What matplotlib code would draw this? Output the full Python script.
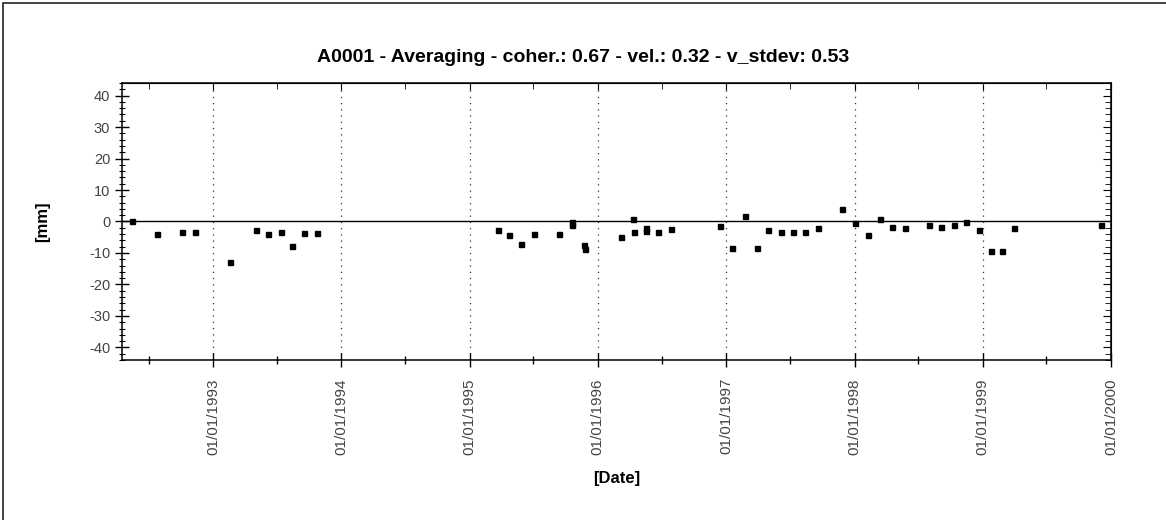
import numpy as np
import pandas as pd
import matplotlib
matplotlib.use("Agg")
import matplotlib.pyplot as plt
import matplotlib.dates as mdates
from matplotlib.patches import Rectangle
from matplotlib.ticker import MultipleLocator

# --- data ---
dates = [
    "1992-05-15", "1992-07-25", "1992-10-04", "1992-11-09",
    "1993-02-19", "1993-05-02", "1993-06-06", "1993-07-12", "1993-08-13",
    "1993-09-17", "1993-10-23",
    "1995-03-22", "1995-04-23", "1995-05-28", "1995-07-04", "1995-09-12",
    "1995-10-19", "1995-10-20", "1995-11-23", "1995-11-24",
    "1996-03-06", "1996-04-11", "1996-04-12", "1996-05-16", "1996-05-17",
    "1996-06-21", "1996-07-26", "1996-12-13",
    "1997-01-18", "1997-02-22", "1997-03-30", "1997-04-30", "1997-06-05",
    "1997-07-11", "1997-08-14", "1997-09-20", "1997-11-27",
    "1998-01-02", "1998-02-07", "1998-03-14", "1998-04-18", "1998-05-24",
    "1998-07-31", "1998-09-04", "1998-10-10", "1998-11-14", "1998-12-20",
    "1999-01-24", "1999-02-26", "1999-04-01", "1999-12-04",
]
displacement_mm = [
    0.0, -4.0, -3.2, -3.2,
    -12.8, -2.7, -4.0, -3.2, -7.9,
    -3.6, -3.6,
    -2.7, -4.4, -7.1, -4.0, -4.0,
    -0.1, -1.0, -7.5, -8.7,
    -4.9, 0.7, -3.2, -2.2, -2.9,
    -3.2, -2.3, -1.4,
    -8.5, 1.7, -8.5, -2.7, -3.2,
    -3.2, -3.2, -2.2, 3.9,
    -0.5, -4.4, 0.7, -1.8, -2.2,
    -1.0, -1.8, -1.0, -0.1, -2.7,
    -9.3, -9.3, -2.2, -1.0,
]
year_ticks = ["1993", "1994", "1995", "1996", "1997", "1998", "1999", "2000"]

title = "A0001 - Averaging - coher.: 0.67 - vel.: 0.32 - v_stdev: 0.53"

plt.rcParams['font.family'] = ['Liberation Sans', 'DejaVu Sans']
plt.rcParams['axes.unicode_minus'] = False

fig = plt.figure(figsize=(11.66, 5.2), dpi=100)
ax = fig.add_axes([0.1046, 0.3077, 0.8482, 0.5327])

# outer frame of the page
fig.patches.append(Rectangle((3 / 1166, -0.1), 1.1, 1.1 - 3 / 520,
                             transform=fig.transFigure, fill=False,
                             edgecolor="#222222", linewidth=1.2))

x = pd.to_datetime(dates)
ax.plot(x, displacement_mm, linestyle="none", marker="s", markersize=3.6,
        color="black", zorder=3)
ax.axhline(0, color="black", linewidth=1.0, zorder=2)

ax.set_xlim(pd.Timestamp("1992-04-16"), pd.Timestamp("2000-01-01"))
ax.set_ylim(-44, 44)

year_locs = pd.to_datetime([y + "-01-01" for y in year_ticks])
ax.set_xticks(year_locs)
ax.set_xticklabels([d.strftime("%d/%m/%Y") for d in year_locs],
                   rotation=90, fontsize=11, color="#444444")
ax.xaxis.set_minor_locator(mdates.MonthLocator(bymonth=7, bymonthday=1))
ax.grid(axis="x", which="major", linestyle=(0, (1, 4)), color="#333333",
        linewidth=0.9)

ax.yaxis.set_major_locator(MultipleLocator(10))
ax.yaxis.set_minor_locator(MultipleLocator(2))
ax.tick_params(axis="y", labelsize=10.5, labelcolor="#444444")

# bottom / left ticks cross the spine, top / right ticks point inward
ax.tick_params(axis="x", which="major", direction="inout", length=10,
               width=1, pad=8)
ax.tick_params(axis="x", which="minor", direction="inout", length=6, width=1)
ax.tick_params(axis="y", which="major", direction="inout", length=10, width=1)
ax.tick_params(axis="y", which="minor", direction="inout", length=5,
               width=0.8)
sec = ax.secondary_xaxis("top")
sec.set_xticks(year_locs)
sec.xaxis.set_minor_locator(mdates.MonthLocator(bymonth=7, bymonthday=1))
sec.tick_params(which="major", direction="in", length=5, labeltop=False)
sec.tick_params(which="minor", direction="in", length=4)
secy = ax.secondary_yaxis("right")
secy.yaxis.set_major_locator(MultipleLocator(10))
secy.yaxis.set_minor_locator(MultipleLocator(2))
secy.tick_params(which="major", direction="in", length=6, labelright=False)
secy.tick_params(which="minor", direction="in", length=4)
for sp in ax.spines.values():
    sp.set_linewidth(1.1)

ax.set_ylabel("[mm]", fontsize=12, fontweight="bold", labelpad=28)
ax.set_xlabel("[Date]", fontsize=12, fontweight="bold", labelpad=12)
fig.text(0.5, 1 - 58 / 520, title, ha="center", va="center",
         fontsize=14, fontweight="bold")

fig.savefig("out.png", dpi=100)
